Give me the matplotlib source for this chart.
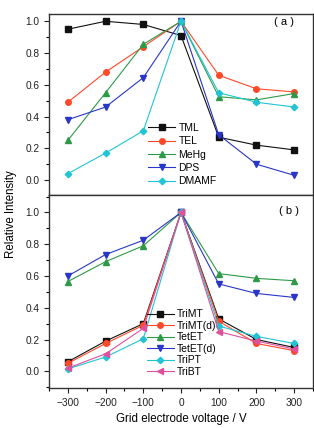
import matplotlib
matplotlib.use("Agg")
import matplotlib.pyplot as plt
from matplotlib.ticker import MultipleLocator

voltage = [-300, -200, -100, 0, 100, 200, 300]

# panel (a)
tml = [0.95, 1.00, 0.98, 0.91, 0.27, 0.22, 0.19]
tel = [0.49, 0.68, 0.84, 1.00, 0.66, 0.575, 0.555]
mehg = [0.25, 0.55, 0.855, 1.00, 0.525, 0.505, 0.545]
dps = [0.38, 0.46, 0.645, 1.00, 0.285, 0.10, 0.03]
dmamf = [0.04, 0.17, 0.31, 1.00, 0.55, 0.49, 0.46]

# panel (b)
trimt = [0.06, 0.19, 0.30, 1.00, 0.33, 0.20, 0.15]
trimt_d = [0.05, 0.175, 0.29, 1.00, 0.315, 0.175, 0.13]
tetet = [0.565, 0.69, 0.79, 1.00, 0.615, 0.585, 0.57]
tetet_d = [0.60, 0.735, 0.825, 1.00, 0.55, 0.49, 0.465]
tript = [0.015, 0.09, 0.205, 1.00, 0.285, 0.22, 0.175]
tribt = [0.02, 0.11, 0.27, 1.00, 0.25, 0.19, 0.14]

black = "#111111"
red = "#ff4a2a"
green = "#2e9a48"
blue = "#2a36c8"
cyan = "#22c4d4"
magenta = "#e0509c"

plt.rcParams["font.family"] = "Liberation Sans"

fig = plt.figure(figsize=(3.14, 4.28), dpi=100)
ax1 = fig.add_axes([0.156, 0.544, 0.841, 0.423])
ax2 = fig.add_axes([0.156, 0.0935, 0.841, 0.451])

kw = dict(lw=0.8, ms=4.0)
ax1.plot(voltage, tml, color=black, marker="s", label="TML", **kw)
ax1.plot(voltage, tel, color=red, marker="o", label="TEL", **kw)
ax1.plot(voltage, mehg, color=green, marker="^", label="MeHg", **kw)
ax1.plot(voltage, dps, color=blue, marker="v", label="DPS", **kw)
ax1.plot(voltage, dmamf, color=cyan, marker="D", label="DMAMF", ms=3.3, lw=0.8)

ax2.plot(voltage, trimt, color=black, marker="s", label="TriMT", **kw)
ax2.plot(voltage, trimt_d, color=red, marker="o", label="TriMT(d)", **kw)
ax2.plot(voltage, tetet, color=green, marker="^", label="TetET", **kw)
ax2.plot(voltage, tetet_d, color=blue, marker="v", label="TetET(d)", **kw)
ax2.plot(voltage, tript, color=cyan, marker="D", label="TriPT", ms=3.3, lw=0.8)
ax2.plot(voltage, tribt, color=magenta, marker="<", label="TriBT", **kw)

for ax in (ax1, ax2):
    ax.set_xlim(-350, 350)
    ax.xaxis.set_major_locator(MultipleLocator(100))
    ax.xaxis.set_minor_locator(MultipleLocator(50))
    ax.yaxis.set_major_locator(MultipleLocator(0.2))
    ax.yaxis.set_minor_locator(MultipleLocator(0.1))
    ax.tick_params(which="major", direction="out", length=3.5, width=0.8, labelsize=7.3, colors="#222222")
    ax.tick_params(which="minor", direction="out", length=2, width=0.8)
    for s in ax.spines.values():
        s.set_linewidth(1.0)
        s.set_color("#333333")

ax1.set_ylim(-0.095, 1.045)
ax2.set_ylim(-0.105, 1.11)
ax1.tick_params(axis="x", labelbottom=False)

ax1.legend(loc="lower left", bbox_to_anchor=(0.36, 0.025), frameon=False, fontsize=7.5,
           handlelength=2.6, labelspacing=0.32, handletextpad=0.3, borderaxespad=0)
ax2.legend(loc="lower left", bbox_to_anchor=(0.355, 0.035), frameon=False, fontsize=7.5,
           handlelength=2.6, labelspacing=0.15, handletextpad=0.3, borderaxespad=0)

ax1.text(0.89, 0.955, "( a )", transform=ax1.transAxes, ha="center", va="center", fontsize=8)
ax2.text(0.91, 0.915, "( b )", transform=ax2.transAxes, ha="center", va="center", fontsize=8)

ax2.set_xlabel("Grid electrode voltage / V", fontsize=8.3, labelpad=4)
fig.text(0.035, 0.5, "Relative Intensity", rotation=90, ha="center", va="center", fontsize=8.3)

fig.savefig("out.png", dpi=100)
